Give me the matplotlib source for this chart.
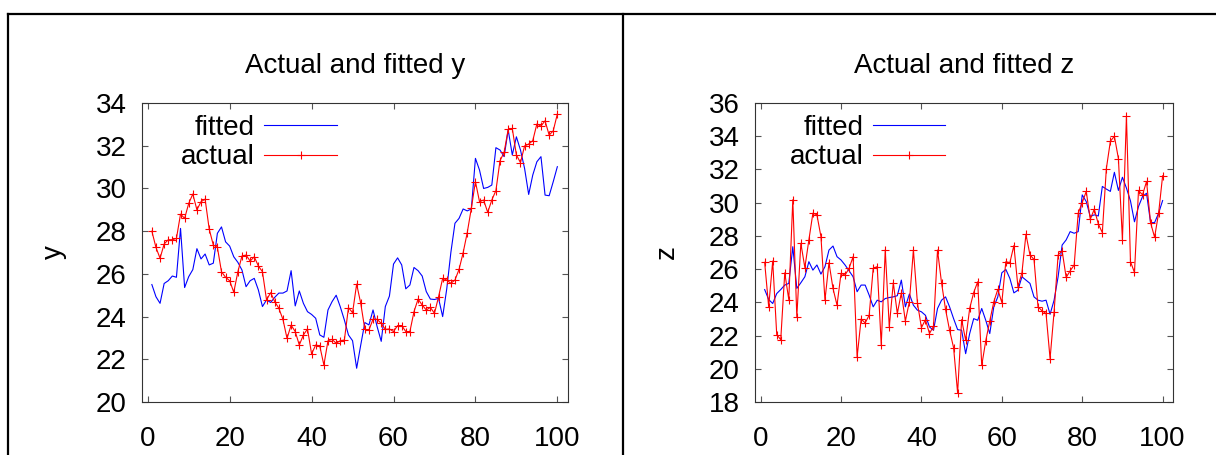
import matplotlib.pyplot as plt
import numpy as np
from matplotlib.lines import Line2D

plt.rcParams['font.family'] = ['Liberation Sans', 'DejaVu Sans']

obs = np.arange(1, 101)

y_actual = [28.0, 27.24, 26.73, 27.4, 27.6, 27.6, 27.66, 28.8, 28.6, 29.3,
            29.74, 29.0, 29.38, 29.5, 28.1, 27.35, 27.24, 26.1, 25.84, 25.68,
            25.14, 26.1, 26.84, 26.88, 26.6, 26.8, 26.37, 26.1, 24.78, 25.12,
            24.7, 24.39, 23.87, 22.98, 23.6, 23.3, 22.67, 23.14, 23.42, 22.25,
            22.67, 22.62, 21.73, 22.87, 22.93, 22.75, 22.87, 22.9, 24.42, 24.18,
            25.52, 24.62, 23.4, 23.37, 23.88, 23.87, 23.68, 23.4, 23.42, 23.3,
            23.58, 23.58, 23.3, 23.3, 24.23, 24.82, 24.54, 24.31, 24.43, 24.15,
            24.93, 25.79, 25.71, 25.56, 25.71, 26.21, 26.99, 27.93, 29.07, 30.32,
            29.38, 29.46, 28.88, 29.46, 29.9, 31.3, 31.69, 32.77, 32.81, 31.57,
            31.21, 31.99, 32.08, 32.24, 33.02, 32.92, 33.17, 32.5, 32.7, 33.49]

y_fitted = [25.5, 24.93, 24.62, 25.55, 25.68, 25.9, 25.84, 28.13, 25.36, 25.87,
            26.2, 27.18, 26.7, 26.93, 26.42, 26.5, 27.9, 28.2, 27.5, 27.3,
            26.8, 26.54, 26.18, 25.4, 25.68, 25.79, 25.25, 24.47, 24.78, 24.66,
            24.9, 25.1, 25.1, 25.2, 26.15, 24.5, 25.2, 24.62, 24.23, 24.1,
            23.92, 23.14, 23.03, 24.31, 24.7, 25.0, 24.46, 23.84, 23.14, 22.87,
            21.58, 22.67, 23.72, 23.61, 24.31, 23.53, 22.84, 24.47, 24.96, 26.46,
            26.75, 26.42, 25.3, 25.48, 26.3, 26.15, 25.9, 25.17, 24.82, 24.8,
            24.85, 24.0, 25.3, 27.0, 28.37, 28.6, 29.04, 28.95, 29.04, 31.41,
            30.86, 30.0, 30.05, 30.16, 31.91, 31.8, 31.49, 32.74, 31.57, 32.42,
            31.8, 30.94, 29.72, 30.63, 31.25, 31.49, 29.69, 29.66, 30.32, 31.02]

z_actual = [26.41, 23.73, 26.49, 22.06, 21.75, 25.78, 24.17, 30.18, 23.13, 27.56,
            26.09, 27.76, 29.37, 29.27, 27.96, 24.13, 26.39, 24.84, 23.83, 25.75,
            25.64, 26.05, 26.75, 20.71, 23.0, 22.76, 23.23, 26.05, 26.15, 21.42,
            27.16, 22.52, 25.18, 23.33, 24.57, 22.88, 24.03, 27.15, 23.97, 22.48,
            22.96, 22.12, 22.56, 27.15, 25.18, 23.57, 22.32, 21.27, 18.55, 22.96,
            21.72, 23.63, 24.59, 25.24, 20.2, 21.68, 22.88, 24.03, 24.78, 23.99,
            26.45, 26.39, 27.42, 24.94, 25.78, 28.1, 26.85, 26.59, 23.73, 23.49,
            23.33, 20.61, 23.43, 26.85, 27.11, 25.5, 25.9, 26.25, 29.37, 30.01,
            30.68, 29.0, 29.61, 28.72, 28.2, 32.05, 33.7, 34.0, 32.66, 27.76,
            35.22, 26.45, 25.8, 30.74, 30.47, 31.28, 28.8, 27.92, 29.37, 31.62]

z_fitted = [24.77, 24.17, 23.93, 24.53, 24.77, 25.04, 25.14, 27.35, 24.84, 25.18,
            25.54, 26.45, 25.94, 26.25, 25.7, 26.15, 27.15, 27.39, 26.75, 26.55,
            26.25, 25.9, 25.54, 24.64, 25.04, 25.04, 24.43, 23.73, 24.13, 24.03,
            24.23, 24.29, 24.33, 24.4, 25.34, 23.73, 24.5, 23.83, 23.53, 23.43,
            23.22, 22.52, 22.32, 23.63, 24.13, 24.33, 23.73, 23.02, 22.36, 22.32,
            20.91, 22.12, 23.02, 22.92, 23.63, 22.92, 22.12, 23.73, 24.33, 25.78,
            25.98, 25.44, 24.57, 24.73, 25.54, 25.34, 25.14, 24.33, 24.13, 24.07,
            24.13, 23.28, 24.13, 25.54, 27.45, 27.76, 28.26, 28.16, 28.26, 30.47,
            30.07, 29.17, 29.27, 29.2, 30.98, 30.82, 30.68, 31.83, 30.74, 31.53,
            30.88, 30.11, 28.85, 29.77, 30.37, 30.57, 28.8, 28.8, 29.37, 30.13]

panels = [
    ("y", y_actual, y_fitted, [0.1168, 0.1165, 0.3503, 0.657], (20, 34), 0.457, -0.176),
    ("z", z_actual, z_fitted, [0.6209, 0.1165, 0.3438, 0.657], (18, 36), 0.455, -0.179),
]

fs = 20
fig = plt.figure(figsize=(12.16, 4.55), dpi=100)

for name, act, fit, rect, ylim, legx, labx in panels:
    ax = fig.add_axes(rect)
    ax.plot(obs, fit, color='#0000ff', lw=0.8, label='fitted')
    ax.plot(obs, act, color='#ff0000', lw=0.8, marker='+', ms=6,
            mew=0.8, label='actual')
    ax.set_xlim(-1.4, 102.6)
    ax.set_ylim(*ylim)
    ax.set_xticks([0, 20, 40, 60, 80, 100])
    ax.set_yticks(np.arange(ylim[0], ylim[1] + 1, 2))
    ax.tick_params(direction='in', top=True, right=True, length=4.5,
                   width=0.8, labelsize=fs, color='#555555')
    ax.tick_params(axis='x', pad=17)
    ax.tick_params(axis='y', pad=11)
    for sp in ax.spines.values():
        sp.set_color('#333333')
        sp.set_linewidth(0.8)
    ax.set_title('Actual and fitted ' + name, fontsize=fs, pad=22)
    ax.set_ylabel(name, fontsize=fs)
    ax.yaxis.set_label_coords(labx, 0.5)
    ax.legend(loc='upper right', bbox_to_anchor=(legx, 0.96), frameon=False,
              markerfirst=False, fontsize=fs, borderpad=0, borderaxespad=0,
              handlelength=2.6, handletextpad=0.35, labelspacing=0.12,
              numpoints=1)

# cell borders around the two charts
top = 1 - 14 / 455
fig.add_artist(Line2D([8 / 1216, 1], [top, top], color='black', lw=1.6))
fig.add_artist(Line2D([8 / 1216, 8 / 1216], [0, top], color='black', lw=1.6))
fig.add_artist(Line2D([623 / 1216, 623 / 1216], [0, top], color='black', lw=1.6))

fig.savefig('out.png', dpi=100)
